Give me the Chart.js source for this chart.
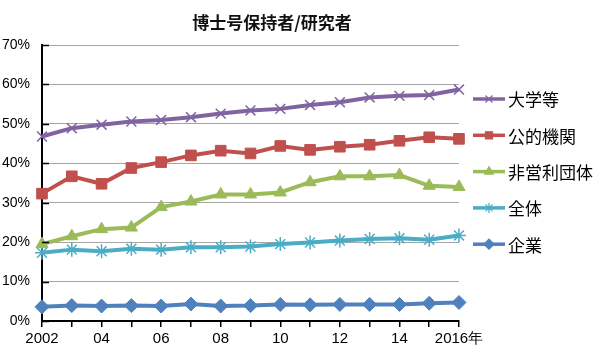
<!DOCTYPE html>
<html>
<head>
<meta charset="utf-8">
<script src="https://cdn.jsdelivr.net/npm/chart.js@4/dist/chart.umd.min.js"></script>
<style>
  html, body { margin: 0; padding: 0; background: #fff; }
  canvas { display: block; }
</style>
</head>
<body>
<canvas id="c" width="600" height="355"></canvas>
<script>
const titleText = '博士号保持者/研究者';
const years = [2002, 2003, 2004, 2005, 2006, 2007, 2008, 2009, 2010, 2011, 2012, 2013, 2014, 2015, 2016];
const xTickLabels = ['2002', '', '04', '', '06', '', '08', '', '10', '', '12', '', '14', '', '2016年'];
const yTicks = [0, 10, 20, 30, 40, 50, 60, 70];
const seriesNames = ['大学等', '公的機関', '非営利団体', '全体', '企業'];
const university = [46.8, 48.9, 49.8, 50.6, 51.0, 51.7, 52.6, 53.4, 53.8, 54.8, 55.5, 56.7, 57.1, 57.3, 58.7];
const publicInst = [32.3, 36.7, 34.8, 38.8, 40.3, 42.0, 43.2, 42.5, 44.4, 43.4, 44.2, 44.7, 45.7, 46.6, 46.2];
const nonprofit = [19.5, 21.5, 23.3, 23.7, 28.9, 30.3, 32.1, 32.1, 32.6, 35.2, 36.7, 36.7, 37.0, 34.3, 34.0];
const total = [17.3, 18.1, 17.7, 18.3, 18.1, 18.7, 18.7, 18.9, 19.5, 19.9, 20.4, 20.8, 21.0, 20.6, 21.7];
const company = [3.6, 3.9, 3.8, 3.9, 3.8, 4.3, 3.8, 3.9, 4.2, 4.1, 4.2, 4.2, 4.2, 4.5, 4.7];

const colors = ['#8064A2', '#C0504D', '#9BBB59', '#4BACC6', '#4F81BD'];
const styles = ['crossRot', 'rect', 'triangle', 'star', 'rectRot'];
const radii = [7, 7.5, 7, 7, 7];
const seriesValues = [university, publicInst, nonprofit, total, company];

const numFont = "'Liberation Sans', Arial, sans-serif";
const cjkFont = "'Noto Sans CJK JP', 'Noto Sans CJK SC', sans-serif";

const datasets = seriesNames.map((name, i) => ({
  label: name,
  data: seriesValues[i],
  borderColor: colors[i],
  backgroundColor: colors[i],
  borderWidth: 4,
  pointStyle: styles[i],
  pointRadius: radii[i],
  pointBorderColor: colors[i],
  pointBackgroundColor: colors[i],
  pointBorderWidth: (styles[i] === 'crossRot' || styles[i] === 'star') ? 1.5 : 1,
  tension: 0
}));

const decorPlugin = {
  id: 'decor',
  afterDraw(chart) {
    const ctx = chart.ctx;
    const area = chart.chartArea;
    const yScale = chart.scales.y;
    ctx.save();
    // inner tick marks on y axis
    ctx.strokeStyle = '#000';
    ctx.lineWidth = 1.5;
    yTicks.forEach(v => {
      const py = Math.round(yScale.getPixelForValue(v)) + 0.5;
      ctx.beginPath();
      ctx.moveTo(area.left, py);
      ctx.lineTo(area.left + 7, py);
      ctx.stroke();
    });
    // title
    ctx.fillStyle = '#111';
    ctx.font = 'bold 17px ' + cjkFont;
    ctx.textAlign = 'center';
    ctx.textBaseline = 'middle';
    ctx.fillText(titleText, 272, 23);
    // legend
    const lx0 = 473, lx1 = 505, tx = 508, y0 = 99, dy = 36.3;
    chart.data.datasets.forEach((ds, i) => {
      const y = y0 + i * dy;
      ctx.strokeStyle = ds.borderColor;
      ctx.lineWidth = 3.5;
      ctx.beginPath();
      ctx.moveTo(lx0, y);
      ctx.lineTo(lx1, y);
      ctx.stroke();
      ctx.fillStyle = ds.borderColor;
      ctx.strokeStyle = ds.borderColor;
      ctx.lineWidth = 1.2;
      Chart.helpers.drawPoint(ctx, { pointStyle: ds.pointStyle, radius: 5, rotation: 0, borderWidth: 1.2 }, (lx0 + lx1) / 2, y);
      ctx.fillStyle = '#000';
      ctx.font = '17px ' + cjkFont;
      ctx.textAlign = 'left';
      ctx.textBaseline = 'middle';
      ctx.fillText(ds.label, tx, y + 1);
    });
    ctx.restore();
  }
};

new Chart(document.getElementById('c'), {
  type: 'line',
  data: { labels: years, datasets: datasets },
  options: {
    responsive: false,
    animation: false,
    layout: { padding: { top: 45, right: 141, left: 0, bottom: 0 } },
    plugins: {
      legend: { display: false },
      title: { display: false },
      tooltip: { enabled: false }
    },
    scales: {
      x: {
        type: 'category',
        offset: false,
        afterFit(scale) { scale.height = 34; },
        grid: {
          drawOnChartArea: false,
          drawTicks: true,
          tickLength: 6,
          color: '#000',
          tickColor: '#000',
          lineWidth: 1.5
        },
        border: { display: true, color: '#000', width: 2 },
        ticks: {
          autoSkip: false,
          maxRotation: 0,
          padding: 3,
          color: '#000',
          font: { family: numFont, size: 15 },
          callback: (v, i) => xTickLabels[i]
        }
      },
      y: {
        min: 0,
        max: 70,
        afterFit(scale) { scale.width = 42; },
        afterBuildTicks(scale) { scale.ticks = yTicks.map(v => ({ value: v })); },
        grid: {
          drawTicks: false,
          color: '#a6a6a6',
          lineWidth: 1
        },
        border: { display: true, color: '#000', width: 2 },
        ticks: {
          padding: 12,
          color: '#000',
          font: { family: numFont, size: 14 },
          callback: v => v + '%'
        }
      }
    }
  },
  plugins: [decorPlugin]
});
</script>
</body>
</html>
